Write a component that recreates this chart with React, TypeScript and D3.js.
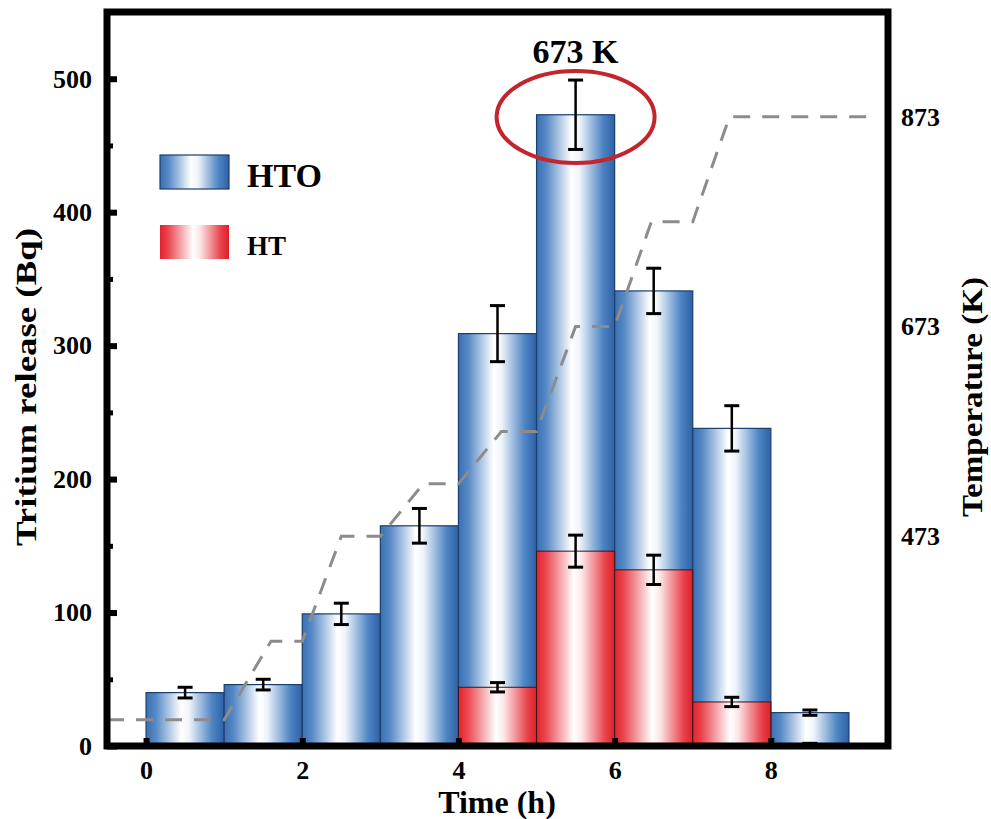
import React, { useRef, useEffect } from "react";
import * as d3 from "d3";

// Tritium release per hour slot (Bq)
const hours = [0, 1, 2, 3, 4, 5, 6, 7, 8];
const htoRelease = [40, 46, 99, 165, 309, 473, 341, 238, 25];
const htoError = [4, 4, 8, 13, 21, 26, 17, 17, 2];
const htRelease = [0, 0, 0, 0, 44, 146, 132, 33, 1];
const htError = [0, 0, 0, 0, 3.5, 12, 11, 3.5, 1];

// heating program (dashed line, right axis)
const tempTime = [-0.5, 1.0, 1.6, 2.0, 2.5, 3.0, 3.55, 4.0, 4.55, 5.0, 5.5, 6.0, 6.47, 7.0, 7.47, 9.3];
const tempK = [298, 298, 373, 373, 473, 473, 523, 523, 573, 573, 673, 673, 773, 773, 873, 873];

const yTicks = [0, 100, 200, 300, 400, 500];
const yMinorTicks = [50, 150, 250, 350, 450];
const xTicks = [0, 2, 4, 6, 8];
const tempTicks = [473, 673, 873];

const FONT = "'Liberation Serif', 'Times New Roman', serif";

const App = () => {
  const svgRef = useRef<SVGSVGElement>(null);

  useEffect(() => {
    const svg = d3.select(svgRef.current);
    svg.selectAll("*").remove();

    const margin = { top: 12, right: 103, bottom: 73, left: 107 };
    const W = 991, H = 819;
    const left = margin.left, right = W - margin.right;
    const top = margin.top, bottom = H - margin.bottom;

    const x = d3.scaleLinear().domain([-0.5, 9.5]).range([left, right]);
    const y = d3.scaleLinear().domain([0, 550]).range([bottom, top]);
    const yT = d3.scaleLinear().domain([273, 973]).range([bottom, top]);

    // gradients
    const defs = svg.append("defs");
    const blue = defs.append("linearGradient").attr("id", "gBlue");
    [
      ["0%", "#3a71b3"], ["12%", "#5588c5"], ["45%", "#ffffff"],
      ["55%", "#eef4fb"], ["85%", "#4d84c3"], ["100%", "#2d62a6"],
    ].forEach(([o, c]) => blue.append("stop").attr("offset", o).attr("stop-color", c));
    const red = defs.append("linearGradient").attr("id", "gRed");
    [
      ["0%", "#e2222c"], ["12%", "#ea4850"], ["48%", "#ffffff"],
      ["58%", "#fde6e7"], ["88%", "#e9434b"], ["100%", "#df1f29"],
    ].forEach(([o, c]) => red.append("stop").attr("offset", o).attr("stop-color", c));
    defs.append("clipPath").attr("id", "plotClip")
      .append("rect").attr("x", left).attr("y", top)
      .attr("width", right - left).attr("height", bottom - top);

    // HTO bars (behind)
    svg.append("g").selectAll("rect")
      .data(hours)
      .join("rect")
      .attr("x", (d) => x(d))
      .attr("width", (d) => x(d + 1) - x(d))
      .attr("y", (d, i) => y(htoRelease[i]))
      .attr("height", (d, i) => y(0) - y(htoRelease[i]))
      .attr("fill", "url(#gBlue)")
      .attr("stroke", "#1c3e6c")
      .attr("stroke-width", 1.2);

    // HT bars in front
    const htIdx = hours.filter((d, i) => htRelease[i] > 0);
    svg.append("g").selectAll("rect")
      .data(htIdx)
      .join("rect")
      .attr("x", (d) => x(d))
      .attr("width", (d) => x(d + 1) - x(d))
      .attr("y", (d) => y(htRelease[d]))
      .attr("height", (d) => y(0) - y(htRelease[d]))
      .attr("fill", "url(#gRed)")
      .attr("stroke", "#3b1518")
      .attr("stroke-width", 1);

    // error bars
    const drawErr = (vals: number[], errs: number[], idx: number[]) => {
      const g = svg.append("g").attr("stroke", "#000");
      idx.forEach((d) => {
        const cx = x(d + 0.5);
        const hi = y(vals[d] + errs[d]);
        const lo = y(vals[d] - errs[d]);
        g.append("line").attr("x1", cx).attr("x2", cx).attr("y1", hi).attr("y2", lo).attr("stroke-width", 2.5);
        g.append("line").attr("x1", cx - 7.5).attr("x2", cx + 7.5).attr("y1", hi).attr("y2", hi).attr("stroke-width", 3);
        g.append("line").attr("x1", cx - 7.5).attr("x2", cx + 7.5).attr("y1", lo).attr("y2", lo).attr("stroke-width", 3);
      });
    };
    drawErr(htoRelease, htoError, hours);
    drawErr(htRelease, htError, htIdx);

    // temperature program
    svg.append("path")
      .datum(tempTime.map((t, i) => [t, tempK[i]] as [number, number]))
      .attr("clip-path", "url(#plotClip)")
      .attr("fill", "none")
      .attr("stroke", "#8c8c8c")
      .attr("stroke-width", 3)
      .attr("stroke-dasharray", "17,12")
      .attr("d", d3.line<[number, number]>().x((d) => x(d[0])).y((d) => yT(d[1])));

    // left axis
    const yAxis = svg.append("g")
      .attr("transform", `translate(${left},0)`)
      .call(d3.axisLeft(y).tickValues(yTicks).tickSize(-10).tickPadding(15));
    yAxis.select(".domain").remove();
    yAxis.selectAll("line").attr("stroke-width", 6);
    yAxis.selectAll("text").attr("font-size", 26).attr("font-weight", "bold").attr("font-family", FONT);

    const yMinor = svg.append("g")
      .attr("transform", `translate(${left},0)`)
      .call(d3.axisLeft(y).tickValues(yMinorTicks).tickSize(-6).tickFormat(() => ""));
    yMinor.select(".domain").remove();
    yMinor.selectAll("line").attr("stroke-width", 5);

    // bottom axis
    const xAxis = svg.append("g")
      .attr("transform", `translate(0,${bottom})`)
      .call(d3.axisBottom(x).tickValues(xTicks).tickSize(-8).tickPadding(15).tickFormat(d3.format("d")));
    xAxis.select(".domain").remove();
    xAxis.selectAll("line").attr("stroke-width", 6);
    xAxis.selectAll("text").attr("font-size", 26).attr("font-weight", "bold").attr("font-family", FONT);

    // right axis labels
    const rAxis = svg.append("g")
      .attr("transform", `translate(${right},0)`)
      .call(d3.axisRight(yT).tickValues(tempTicks).tickSize(0).tickPadding(13));
    rAxis.select(".domain").remove();
    rAxis.selectAll("text").attr("font-size", 26).attr("font-weight", "bold").attr("font-family", FONT);

    // frame
    svg.append("rect")
      .attr("x", left).attr("y", top)
      .attr("width", right - left).attr("height", bottom - top)
      .attr("fill", "none").attr("stroke", "#000").attr("stroke-width", 7);

    // axis titles
    const title = (tx: number, ty: number, rot: number, s: string, size: number, len?: number) => {
      const t = svg.append("text")
        .attr("transform", `translate(${tx},${ty}) rotate(${rot})`)
        .attr("text-anchor", "middle")
        .attr("font-family", FONT)
        .attr("font-weight", "bold")
        .attr("font-size", size)
        .text(s);
      if (len) t.attr("textLength", len).attr("lengthAdjust", "spacingAndGlyphs");
      return t;
    };
    title(497, 813, 0, "Time (h)", 32);
    title(36, 387, -90, "Tritium release (Bq)", 29, 318);
    title(982, 397, -90, "Temperature (K)", 30, 240);

    // legend
    const legend = svg.append("g").attr("transform", "translate(160,155)");
    legend.append("rect").attr("width", 69).attr("height", 34)
      .attr("fill", "url(#gBlue)").attr("stroke", "#1c3e6c").attr("stroke-width", 1.2);
    legend.append("text").attr("x", 87).attr("y", 32)
      .attr("font-family", FONT).attr("font-weight", "bold").attr("font-size", 34).text("HTO");
    legend.append("rect").attr("y", 70).attr("width", 69).attr("height", 34)
      .attr("fill", "url(#gRed)");
    legend.append("text").attr("x", 87).attr("y", 100)
      .attr("font-family", FONT).attr("font-weight", "bold").attr("font-size", 27).text("HT");

    // annotation for the peak
    svg.append("ellipse")
      .attr("cx", x(5.5)).attr("cy", 117).attr("rx", 79).attr("ry", 46)
      .attr("fill", "none").attr("stroke", "#c3252c").attr("stroke-width", 4);
    svg.append("text")
      .attr("x", x(5.5)).attr("y", 63)
      .attr("text-anchor", "middle")
      .attr("font-family", FONT).attr("font-weight", "bold").attr("font-size", 34)
      .text("673 K");
  }, []);

  return (
    <svg
      ref={svgRef}
      width={991}
      height={819}
      style={{ position: "absolute", left: 0, top: 0, background: "white" }}
    ></svg>
  );
};

export default App;
